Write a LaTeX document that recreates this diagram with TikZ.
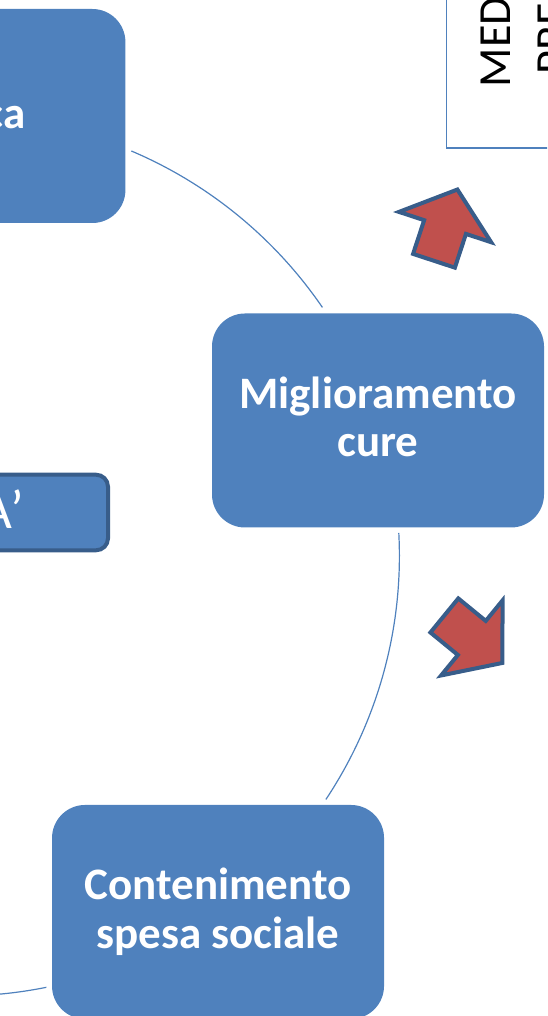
\documentclass[tikz,border=0pt]{standalone}
\usepackage{fontspec}
\setmainfont{Carlito}
\definecolor{boxblue}{HTML}{4F81BD}
\definecolor{edgeblue}{HTML}{385D8A}
\definecolor{arrowred}{HTML}{C0504D}
\tikzstyle{stage}=[rectangle,
	rounded corners=33pt,
	minimum width=332pt,
	minimum height=214pt,
	inner sep=0pt,
	fill=boxblue,
	text=white,
	align=center,
	text height=78.4pt,
	text depth=6pt,
	font=\bfseries\fontsize{45}{48.4}\selectfont]
\tikzstyle{stagetext}=[inner sep=0pt,
	text=white,
	font=\bfseries\fontsize{45}{48.4}\selectfont]
\tikzstyle{band}=[rectangle,
	rounded corners=12pt,
	line width=4pt,
	minimum width=300pt,
	minimum height=75.6pt,
	draw=edgeblue,
	fill=boxblue]
\tikzstyle{bandtext}=[inner sep=0pt,
	text=white,
	font=\fontsize{55}{66}\selectfont]
\tikzstyle{note}=[rectangle,
	line width=1.5pt,
	minimum width=200pt,
	minimum height=300pt,
	draw=boxblue,
	fill=white]
\tikzstyle{notetext}=[inner sep=0pt,
	align=left,
	text=black,
	font=\fontsize{46}{57}\selectfont]
\tikzstyle{link}=[draw=boxblue,
	line width=1.2pt]
\tikzstyle{blockarrow}=[draw=edgeblue,
	fill=arrowred,
	line width=4pt]

\begin{document}
\begin{tikzpicture}[x=1pt,y=1pt]
					\useasboundingbox (0,0) rectangle (547,-1016);
					\clip (0,0) rectangle (547,-1016);
					\coordinate (hub) at (-40.6,-556);

					\node (ca) [stage] at ([shift={(90:440pt)}]hub) {};
					\node (miglioramento) [stage] at ([shift={(17.94:440pt)}]hub) {Miglioramento\\cure};
					\node (contenimento) [stage] at ([shift={(-54:440pt)}]hub) {Contenimento\\spesa sociale};
					\node (catext) [stagetext, anchor=base east] at (25.5,-128.3) {ca};

					\node (aprime) [band, anchor=east] at (110,-512.5) {};
					\node (aprimetext) [bandtext, anchor=base east] at (24,-528.3) {A’};

					\node (med) [note, anchor=south west] at (445.8,-149) {};
					\node (medtext) [notetext, rotate=90, anchor=base west] at (567,-87.3) {MED\\\hspace*{12.6pt}PRED};

					\draw[link] ([shift={(67:440pt)}]hub) arc[start angle=67, end angle=34.4, radius=440pt];
					\draw[link] ([shift={(3:440pt)}]hub) arc[start angle=3, end angle=-33.6, radius=440pt];
					\draw[link] ([shift={(-78.6:440pt)}]hub) arc[start angle=-78.6, end angle=-108, radius=440pt];

					\draw[blockarrow, shift={(433.5,-262.2)}, rotate=71.8] (1.5,22) -- (37,22) -- (37,48.5) -- (76.5,0) -- (37,-48.5) -- (37,-22) -- (1.5,-22) -- cycle;
					\draw[blockarrow, shift={(443.2,-614.5)}, rotate=-39.3] (1.5,22) -- (37,22) -- (37,48.5) -- (76.5,0) -- (37,-48.5) -- (37,-22) -- (1.5,-22) -- cycle;
				\end{tikzpicture}
\end{document}
